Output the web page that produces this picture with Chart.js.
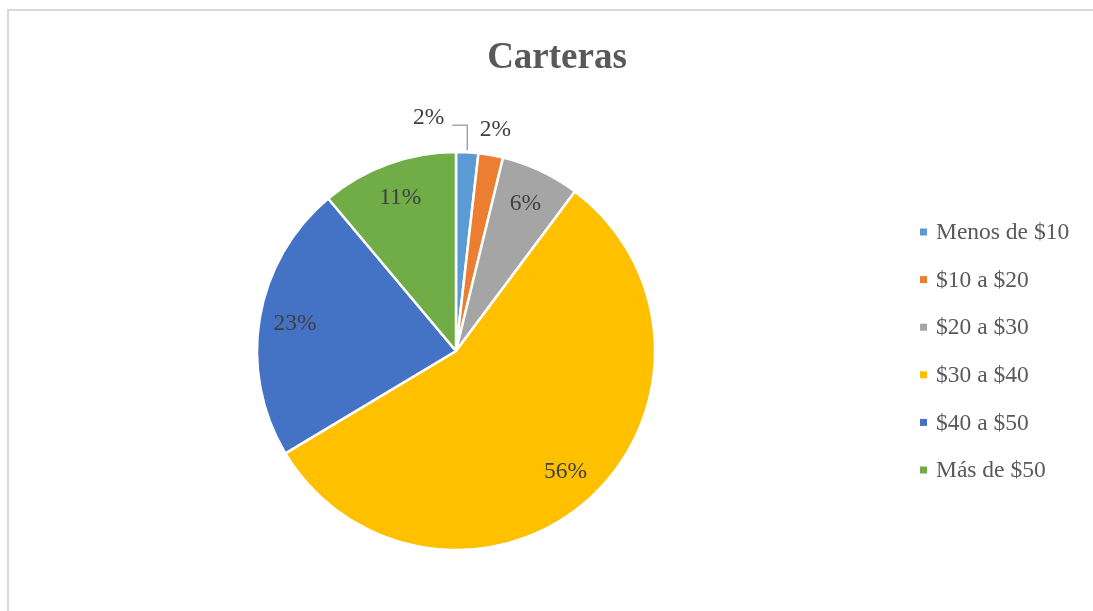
<!DOCTYPE html>
<html>
<head>
<meta charset="utf-8">
<script src="https://cdn.jsdelivr.net/npm/chart.js@4.4.0/dist/chart.umd.min.js"></script>
<style>
  html, body { margin: 0; padding: 0; background: #fff; overflow: hidden; }
  #frame { position: absolute; left: 7px; top: 9px; width: 2000px; height: 2000px; border: 2px solid #d9d9d9; }
  canvas { position: absolute; left: 0; top: 0; }
</style>
</head>
<body>
<div id="frame"></div>
<canvas id="pie" width="1093" height="611"></canvas>
<script>
var categories = ["Menos de $10", "$10 a $20", "$20 a $30", "$30 a $40", "$40 a $50", "Más de $50"];
var shares = [1.8, 2.0, 6.4, 56.2, 22.5, 11.1];
var colors = ["#5B9BD5", "#ED7D31", "#A5A5A5", "#FFC000", "#4472C4", "#70AD47"];
var chartTitle = "Carteras";

var serif = '"Liberation Serif", "Times New Roman", serif';

var labelsPlugin = {
  id: "pieText",
  afterDraw: function (chart) {
    var ctx = chart.ctx;
    var arcs = chart.getDatasetMeta(0).data;
    var total = shares.reduce(function (a, b) { return a + b; }, 0);

    // title
    ctx.save();
    ctx.fillStyle = "#595959";
    ctx.font = "bold 37px " + serif;
    ctx.textAlign = "center";
    ctx.textBaseline = "middle";
    ctx.fillText(chartTitle, 557, 58);

    // data labels
    ctx.font = "23.5px " + serif;
    ctx.fillStyle = "#404040";
    arcs.forEach(function (arc, i) {
      var p = arc.getProps(["x", "y", "startAngle", "endAngle", "outerRadius"], true);
      var mid = (p.startAngle + p.endAngle) / 2;
      var txt = Math.round(shares[i] / total * 100) + "%";
      var pct = shares[i] / total * 100;
      if (i === 0) {
        var ax = p.x + Math.cos(mid) * p.outerRadius;
        var ay = p.y + Math.sin(mid) * p.outerRadius;
        ctx.strokeStyle = "#a6a6a6";
        ctx.lineWidth = 1.5;
        ctx.beginPath();
        ctx.moveTo(ax, ay - 2);
        ctx.lineTo(ax, ay - 27);
        ctx.lineTo(ax - 15, ay - 27);
        ctx.stroke();
        ctx.textAlign = "right";
        ctx.fillText(txt, ax - 23, ay - 34);
        ctx.textAlign = "center";
      } else if (pct < 3) {
        var r = p.outerRadius * 1.13;
        ctx.textAlign = "center";
        ctx.fillText(txt, p.x + Math.cos(mid) * r, p.y + Math.sin(mid) * r);
      } else {
        var r2 = p.outerRadius * 0.82;
        ctx.textAlign = "center";
        ctx.fillText(txt, p.x + Math.cos(mid) * r2, p.y + Math.sin(mid) * r2);
      }
    });

    // legend
    ctx.textAlign = "left";
    ctx.fillStyle = "#595959";
    categories.forEach(function (name, i) {
      var y = 232 + i * 47.6;
      ctx.fillStyle = colors[i];
      ctx.fillRect(920, y - 3.5, 7, 7);
      ctx.fillStyle = "#595959";
      ctx.fillText(name, 936, y + 1);
    });
    ctx.restore();
  }
};

new Chart(document.getElementById("pie"), {
  type: "pie",
  data: {
    labels: categories,
    datasets: [{
      data: shares,
      backgroundColor: colors,
      borderColor: "#ffffff",
      borderWidth: 2.5
    }]
  },
  options: {
    responsive: false,
    animation: false,
    devicePixelRatio: 1,
    radius: 199,
    layout: { padding: { left: 256, right: 437, top: 151, bottom: 60 } },
    plugins: {
      legend: { display: false },
      title: { display: false },
      tooltip: { enabled: false }
    }
  },
  plugins: [labelsPlugin]
});
</script>
</body>
</html>
